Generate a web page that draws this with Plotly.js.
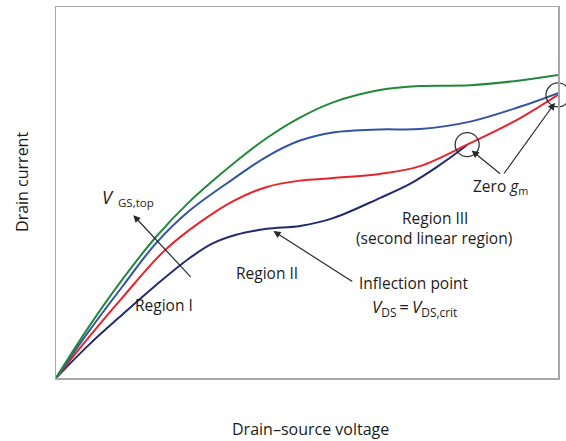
<!DOCTYPE html>
<html>
<head>
<meta charset="utf-8">
<script src="https://cdn.plot.ly/plotly-3.0.1.min.js"></script>
<style>
  html, body { margin: 0; padding: 0; background: #fff; }
  #chart { width: 566px; height: 441px; }
</style>
</head>
<body>
<div id="chart"></div>
<script>
// Output characteristics for four gate voltages (arbitrary units)
const vdsTop  = [0, 0.66, 1.33, 1.99, 2.65, 3.59, 4.20, 4.86, 5.52, 6.45, 7.25, 8.25, 9.24, 10];
const idTop   = [0, 1.39, 2.67, 3.80, 4.74, 5.84, 6.47, 7.02, 7.43, 7.76, 7.87, 7.89, 8.02, 8.17];

const vdsHigh = [0, 0.66, 1.33, 1.99, 2.65, 3.59, 4.20, 4.86, 5.52, 6.45, 7.25, 8.25, 9.24, 10];
const idHigh  = [0, 1.27, 2.48, 3.63, 4.50, 5.42, 5.97, 6.40, 6.62, 6.70, 6.71, 6.91, 7.31, 7.68];

const vdsMid  = [0, 0.66, 1.33, 2.15, 2.87, 3.53, 4.20, 4.86, 5.52, 6.45, 7.25, 8.25, 9.24, 10];
const idMid   = [0, 1.11, 2.18, 3.42, 4.20, 4.77, 5.15, 5.32, 5.39, 5.50, 5.71, 6.33, 7.00, 7.63];

const vdsLow  = [0, 0.66, 1.33, 1.99, 2.65, 3.11, 3.59, 4.20, 4.86, 5.52, 6.45, 7.05, 7.59, 8.11, 8.19];
const idLow   = [0, 0.90, 1.72, 2.50, 3.22, 3.62, 3.86, 4.02, 4.10, 4.31, 4.85, 5.23, 5.69, 6.20, 6.29];

const seriesColors = ['#22883c', '#3553a3', '#e5252b', '#252a6b'];

const FONT = 'Open Sans, Lato, sans-serif';
const INK = '#1e1b1c';

function curve(x, y, color) {
  return {
    x: x, y: y, type: 'scatter', mode: 'lines',
    line: { color: color, width: 2, shape: 'spline', smoothing: 1 },
    hoverinfo: 'skip', showlegend: false
  };
}

// Open rings marking where the transconductance vanishes
function ring(x, y) {
  return {
    x: [x], y: [y], type: 'scatter', mode: 'markers', cliponaxis: false,
    marker: { symbol: 'circle-open', size: 24, color: '#333', line: { width: 1.3, color: '#333' } },
    hoverinfo: 'skip', showlegend: false
  };
}

const traces = [
  curve(vdsLow, idLow, seriesColors[3]),
  curve(vdsMid, idMid, seriesColors[2]),
  curve(vdsHigh, idHigh, seriesColors[1]),
  curve(vdsTop, idTop, seriesColors[0]),
  ring(vdsLow[vdsLow.length - 1], idLow[idLow.length - 1]),
  ring(vdsMid[vdsMid.length - 1], idMid[idMid.length - 1])
];

function label(x, y, text, size, extra) {
  return Object.assign({
    x: x, y: y, xref: 'x', yref: 'y', text: text, showarrow: false,
    font: { family: FONT, size: size || 15.5, color: INK },
    xanchor: 'center', yanchor: 'middle'
  }, extra || {});
}

function arrow(x, y, ax, ay) {
  return {
    x: x, y: y, xref: 'x', yref: 'y', ax: ax, ay: ay, text: '',
    showarrow: true, arrowhead: 2, arrowsize: 1.2, arrowwidth: 1.2,
    arrowcolor: '#2a2a2a', standoff: 0
  };
}

const annotations = [
  label(1.03, 4.89, '<i>V</i>', 18),
  label(1.60, 4.72, 'GS,top', 11.5),
  arrow(1.54, 4.39, 58.7, 63.3),
  label(2.15, 1.97, 'Region I'),
  label(4.20, 2.82, 'Region II'),
  arrow(4.33, 3.96, 80.4, 51.3),
  label(7.13, 2.55, 'Inflection point'),
  label(7.15, 1.91, '<i>V</i><sub>DS</sub>\u2009=\u2009<i>V</i><sub>DS,crit</sub>', 17),
  label(7.54, 4.30, 'Region III'),
  label(7.53, 3.77, '(second linear region)'),
  label(8.85, 5.16, 'Zero <i>g</i><sub>m</sub>'),
  arrow(8.28, 6.13, 30, 24.3),
  arrow(9.94, 7.42, -52, 72.3),
  {
    x: 0.506, y: -0.1388, xref: 'paper', yref: 'paper', showarrow: false,
    text: 'Drain–source voltage', font: { family: FONT, size: 16, color: INK },
    xanchor: 'center', yanchor: 'middle'
  },
  {
    x: -0.068, y: 0.528, xref: 'paper', yref: 'paper', showarrow: false,
    text: 'Drain current', textangle: -90, font: { family: FONT, size: 16, color: INK },
    xanchor: 'center', yanchor: 'middle'
  }
];

const axisStyle = {
  range: [0, 10], showgrid: false, zeroline: false, showticklabels: false,
  ticks: '', showline: true, mirror: true, linecolor: '#a8a8a8', linewidth: 1.5,
  fixedrange: true
};

const layout = {
  width: 566, height: 441,
  margin: { l: 56, r: 8, t: 7, b: 63 },
  paper_bgcolor: '#ffffff', plot_bgcolor: '#ffffff',
  xaxis: Object.assign({}, axisStyle),
  yaxis: Object.assign({}, axisStyle),
  annotations: annotations,
  showlegend: false
};

Plotly.newPlot('chart', traces, layout, { staticPlot: true, displayModeBar: false });
</script>
</body>
</html>
